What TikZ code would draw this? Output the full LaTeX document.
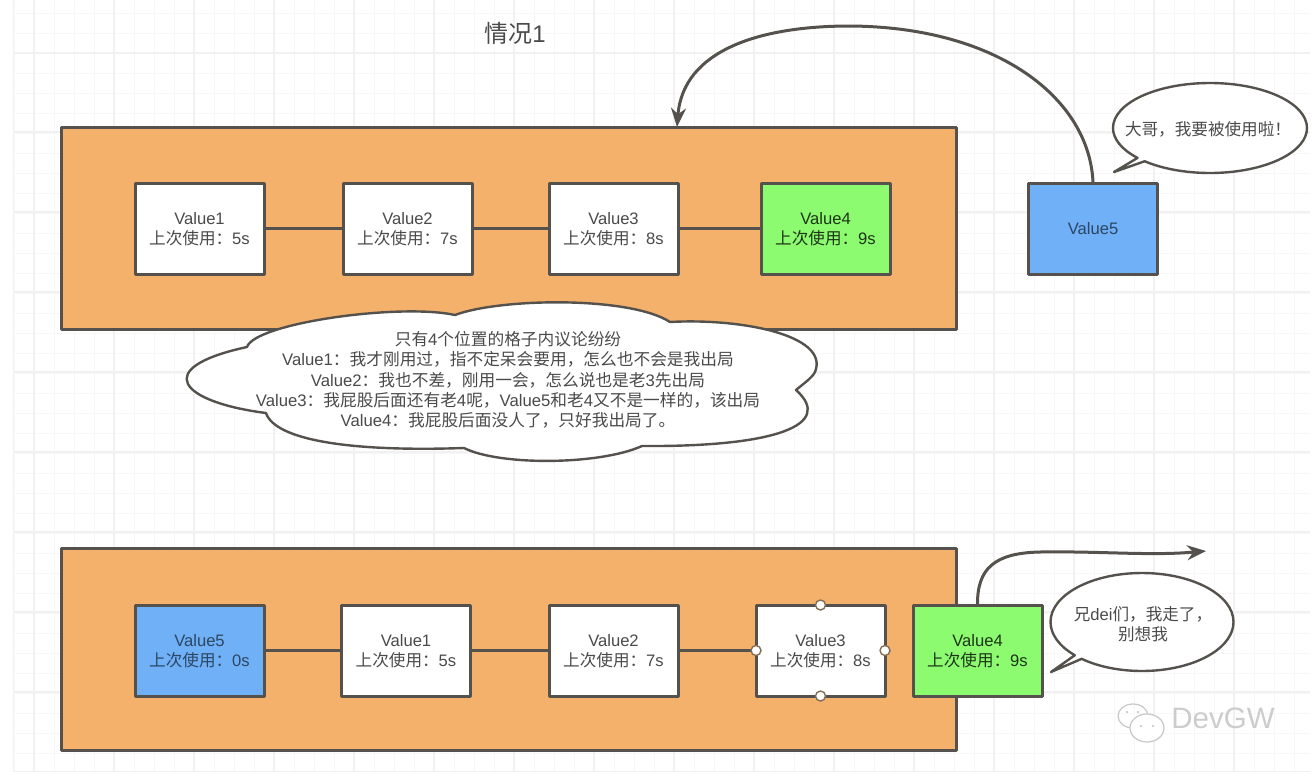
\documentclass[tikz,border=0pt]{standalone}
\usepackage{fontspec}
\setmainfont{Liberation Sans}
\newfontfamily\cjk{Noto Sans CJK SC}
\usetikzlibrary{shapes.callouts,arrows.meta}
\newcommand\zh[1]{{\cjk #1}}
\newcommand\vallines[2]{\raisebox{-2pt}[\height][\depth]{\begin{tabular}{@{}c@{}}#1\\#2\end{tabular}}}
\definecolor{edgec}{HTML}{55524D}
\definecolor{txtc}{HTML}{4A4A4A}
\definecolor{orangec}{HTML}{F3B16C}
\definecolor{greenc}{HTML}{8CFB70}
\definecolor{bluec}{HTML}{6FB0F7}
\definecolor{gridminor}{HTML}{F7F7F7}
\definecolor{gridmajor}{HTML}{F1F1F1}
\tikzset{
 panel/.style={draw=edgec,line width=3pt,line join=round,fill=orangec,minimum width=895pt,minimum height=202pt,inner sep=0pt,outer sep=0pt},
 valbox/.style={draw=edgec,line width=3pt,line join=round,fill=white,minimum width=129pt,minimum height=91pt,inner sep=0pt,outer sep=0pt,text=txtc,font=\fontsize{16.6}{20}\selectfont},
 greenbox/.style={valbox,fill=greenc,text=black!65!greenc!60!black},
 bluebox/.style={valbox,fill=bluec,text=black!60!bluec},
 link/.style={draw=edgec,line width=3pt},
 flow/.style={draw=edgec,line width=3pt,-{Stealth[length=19pt,width=15pt]}},
 speech/.style={ellipse callout,draw=edgec,line width=2.4pt,line join=round,fill=white,inner sep=0pt,outer sep=0pt,callout pointer arc=6},
 speechtext/.style={align=center,text=txtc,font=\fontsize{16.6}{20}\selectfont,inner sep=0pt},
 cloudtext/.style={align=center,text=txtc,font=\fontsize{16.7}{20.2}\selectfont,inner sep=0pt},
 handle/.style={circle,draw=edgec!70!orangec,line width=1.4pt,fill=white,minimum size=10pt,inner sep=0pt},
}
\begin{document}
\begin{tikzpicture}[x=1pt,y=-1pt]
\useasboundingbox (0,0) rectangle (1314,774);
% grid
\foreach \gx in {14,34,...,1310} {\draw[gridminor,line width=1pt] (\gx,0) -- (\gx,771);}
\foreach \gy in {13,33,...,770} {\draw[gridminor,line width=1pt] (13,\gy) -- (1310,\gy);}
\foreach \gx in {34,114,...,1310} {\draw[gridmajor,line width=1.2pt] (\gx,0) -- (\gx,771);}
\foreach \gy in {53,132,212,292,372,452,532,612,692} {\draw[gridmajor,line width=1.2pt] (13,\gy) -- (1310,\gy);}
\draw[gridmajor,line width=1pt] (13,0) -- (13,771) (13,771) -- (1310,771);

\node[font=\fontsize{24}{28}\selectfont,text=txtc] (title) at (515,33) {\zh{情况}1};

% upper panel
\node[panel] (p1) at (508.5,228) {};
\node[valbox] (a1) at (199.5,228.5) {\vallines{Value1}{\zh{上次使用：}5s}};
\node[valbox] (a2) at (407.5,228.5) {\vallines{Value2}{\zh{上次使用：}7s}};
\node[valbox] (a3) at (613.5,228.5) {\vallines{Value3}{\zh{上次使用：}8s}};
\node[greenbox] (a4) at (825.5,228.5) {\vallines{Value4}{\zh{上次使用：}9s}};
\draw[link] (a1) -- (a2);
\draw[link] (a2) -- (a3);
\draw[link] (a3) -- (a4);
\node[bluebox] (a5) at (1093,228.5) {Value5};
\coordinate (p1hit) at (677,127);
\draw[flow] (a5.north) .. controls (1090,100) and (1000,27) .. (850,26) .. controls (760,26) and (683,50) .. (p1hit);
\node[speech,minimum width=194pt,minimum height=90pt,callout absolute pointer={(1114,172)}] (s1) at (1210,128) {};
\node[speechtext] (s1t) at (1208,129) {\zh{大哥，我要被使用啦！}};

% cloud
\draw[draw=edgec,line width=2.4pt,fill=white,line join=round]
 (247,347) .. controls (255,323) and (400,303) .. (455,315)
 .. controls (500,298) and (630,296) .. (670,322)
 .. controls (740,318) and (830,335) .. (815,372)
 .. controls (812,378) and (803,384) .. (796,390)
 .. controls (835,425) and (775,447) .. (642,446)
 .. controls (600,465) and (500,466) .. (464,448)
 .. controls (350,452) and (275,440) .. (266,413)
 .. controls (180,402) and (150,368) .. (247,347) -- cycle;
\node[cloudtext] (cl) at (508,380) {\zh{只有}4\zh{个位置的格子内议论纷纷}\\
Value1\zh{：我才刚用过，指不定呆会要用，怎么也不会是我出局}\\
Value2\zh{：我也不差，刚用一会，怎么说也是老}3\zh{先出局}\\
Value3\zh{：我屁股后面还有老}4\zh{呢，}Value5\zh{和老}4\zh{又不是一样的，该出局}\\
Value4\zh{：我屁股后面没人了，只好我出局了。}};

% lower panel
\node[panel] (p2) at (508.5,649.5) {};
\node[bluebox] (b1) at (199.5,650.5) {\vallines{Value5}{\zh{上次使用：}0s}};
\node[valbox] (b2) at (406,650.5) {\vallines{Value1}{\zh{上次使用：}5s}};
\node[valbox] (b3) at (613.5,650.5) {\vallines{Value2}{\zh{上次使用：}7s}};
\node[valbox] (b4) at (820.5,650.5) {\vallines{Value3}{\zh{上次使用：}8s}};
\node[greenbox] (b5) at (977.5,650.5) {\vallines{Value4}{\zh{上次使用：}9s}};
\draw[link] (b1) -- (b2);
\draw[link] (b2) -- (b3);
\draw[link] (b3) -- (b4);
\node[handle] (hn) at (b4.north) {};
\node[handle] (hs) at (b4.south) {};
\node[handle] (he) at (b4.east) {};
\node[handle] (hw) at (b4.west) {};
\coordinate (exit) at (1206,551);
\draw[flow] (b5.north) .. controls (977,568) and (995,553) .. (1040,552) .. controls (1100,551) and (1150,556) .. (exit);
\node[speech,minimum width=183pt,minimum height=98pt,callout absolute pointer={(1051,672)}] (s2) at (1142,622) {};
\node[speechtext] (s2t) at (1143,624) {\zh{兄}dei\zh{们，我走了，}\\\zh{别想我}};

% watermark
\draw[black!22,line width=1.2pt] (1133,716) ellipse (15pt and 12pt);
\draw[black!22,line width=1.2pt,fill=white] (1147,728) ellipse (17pt and 14pt);
\fill[black!25] (1141,726) circle (1.2pt) (1153,726) circle (1.2pt) (1127,712) circle (1.2pt) (1138,712) circle (1.2pt);
\node[text=black!20,font=\fontsize{29.5}{32}\selectfont,inner sep=0pt] (wm) at (1223,718) {DevGW};
\end{tikzpicture}
\end{document}
